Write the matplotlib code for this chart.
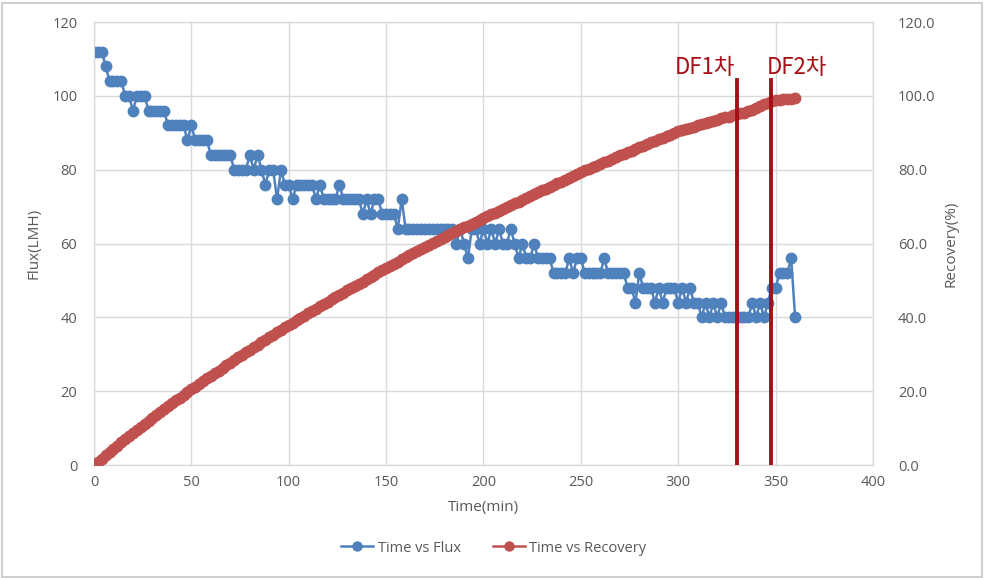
import numpy as np
import matplotlib
matplotlib.use("Agg")
import matplotlib.pyplot as plt
from matplotlib.lines import Line2D
from matplotlib.patches import Rectangle

plt.rcParams['font.family'] = ['Open Sans', 'DejaVu Sans']

# 측정 시간 (2분 간격)
time_min = np.arange(0, 361, 2)

# Flux (LMH), 그림에서 읽은 값
flux = [
    112, 112, 112, 108, 104, 104, 104, 104, 100, 100, 96, 100, 100, 100,
    96, 96, 96, 96, 96,
    92, 92, 92, 92, 92, 88, 92,
    88, 88, 88, 88,
    84, 84, 84, 84, 84, 84,
    80, 80, 80, 80, 84, 80, 84, 80, 76, 80, 80, 72, 80, 76,
    76, 72, 76, 76, 76, 76, 76, 72, 76, 72, 72, 72, 72, 76, 72, 72, 72, 72, 72,
    68, 72, 68, 72, 72, 68, 68, 68, 68,
    64, 72, 64, 64, 64, 64, 64, 64, 64, 64, 64, 64, 64, 64, 64,
    60, 64, 60, 56, 64, 64, 60, 64, 60, 64, 60, 64, 60, 60, 64, 60, 56, 60,
    56, 56, 60, 56, 56, 56, 56,
    52, 52, 52, 52, 56, 52, 56, 56, 52, 52, 52, 52, 52, 56, 52, 52, 52, 52, 52,
    48, 48, 44, 52, 48, 48, 48, 44, 48, 44, 48, 48, 48, 44, 48, 44, 48, 44, 44,
    40, 44, 40, 44, 40, 44, 40, 40, 40, 40, 40, 40, 40, 44, 40, 44, 40, 44,
    48, 48, 52, 52, 52, 56, 40,
]

# Recovery (%), 그림에서 읽은 값
recovery = [
    0.0, 0.9, 1.8, 2.7, 3.6, 4.5, 5.3, 6.2, 7.1, 7.9, 8.8, 9.6, 10.4,
    11.2, 12.0, 12.8, 13.6, 14.4, 15.2, 16.0, 16.8, 17.6, 18.3, 19.1, 19.9, 20.6,
    21.3, 22.0, 22.8, 23.5, 24.2, 24.9, 25.6, 26.3, 27.0, 27.7, 28.5, 29.2, 29.9,
    30.6, 31.3, 31.9, 32.6, 33.3, 34.0, 34.6, 35.3, 36.0, 36.7, 37.3, 38.0,
    38.6, 39.2, 39.9, 40.5, 41.1, 41.7, 42.4, 43.0, 43.6, 44.2, 44.9, 45.5, 46.1,
    46.7, 47.3, 47.9, 48.5, 49.1, 49.7, 50.4, 51.0, 51.6, 52.2, 52.8, 53.4,
    54.0, 54.5, 55.1, 55.7, 56.3, 56.8, 57.4, 58.0, 58.5, 59.1, 59.7, 60.2, 60.8,
    61.3, 61.8, 62.3, 62.8, 63.3, 63.9, 64.4, 64.9, 65.4, 65.9, 66.4, 66.9,
    67.4, 67.9, 68.4, 68.9, 69.4, 69.9, 70.4, 70.9, 71.4, 71.9, 72.4, 72.9, 73.4,
    73.9, 74.4, 74.9, 75.4, 75.9, 76.3, 76.8, 77.3, 77.8, 78.3, 78.8, 79.3,
    79.8, 80.2, 80.7, 81.1, 81.6, 82.0, 82.5, 83.0, 83.4, 83.9, 84.3, 84.8, 85.2,
    85.6, 86.1, 86.5, 86.9, 87.4, 87.8, 88.2, 88.7, 89.1, 89.5, 90.0, 90.4,
    90.7, 91.1, 91.4, 91.7, 92.0, 92.3, 92.7, 93.0, 93.3, 93.6,
    93.9, 94.2, 94.4, 94.7, 95.0,
    95.3, 95.5, 95.8,
    96.3, 96.8, 97.2, 97.7, 98.2,
    98.5, 98.8, 99.0, 99.1, 99.2, 99.2, 99.3,
]

# DF 시점 (min)
df_times = [330, 347.5]
df_labels = ['DF1차', 'DF2차']

blue = '#4F81BD'
red = '#C0504D'
dfred = '#A50F15'
gray_txt = '#595959'
grid_c = '#D9D9D9'

fig = plt.figure(figsize=(9.84, 5.8), dpi=100)
ax = fig.add_axes([0.0955, 0.198, 0.7917, 0.764])
ax2 = ax.twinx()

ax.plot(time_min, flux, color=blue, lw=1.8, marker='o', ms=7.5,
        label='Time vs Flux', zorder=3)
ax2.plot(time_min, recovery, color=red, lw=1.8, marker='o', ms=7.5,
         label='Time vs Recovery', zorder=3)

ax.set_xlim(0, 400)
ax.set_ylim(0, 120)
ax2.set_ylim(0, 120)
ax.set_xticks(np.arange(0, 401, 50))
ax.set_yticks(np.arange(0, 121, 20))
ax2.set_yticks(np.arange(0, 121, 20))
ax2.set_yticklabels([f'{v:.1f}' for v in np.arange(0, 121, 20)])

ax.grid(True, color=grid_c, lw=1.0)
ax.set_axisbelow(True)
for a in (ax, ax2):
    for s in a.spines.values():
        s.set_color(grid_c)
    a.tick_params(length=0, colors=gray_txt, labelsize=10.5)
ax.tick_params(axis='y', pad=12)
ax.tick_params(axis='x', pad=7)
ax2.tick_params(axis='y', pad=18)

ax.set_xlabel('Time(min)', color=gray_txt, fontsize=11, labelpad=7)
ax.set_ylabel('Flux(LMH)', color=gray_txt, fontsize=11, labelpad=8)
ax2.set_ylabel('Recovery(%)', color=gray_txt, fontsize=11, labelpad=6)

# DF 선과 라벨
for t, lab, ha in zip(df_times, df_labels, ['right', 'left']):
    ax2.plot([t, t], [0, 104.3], color=dfred, lw=2.8, zorder=5)
    ax2.text(t + (-0.8 if ha == 'right' else -2.0), 107.6, lab, ha=ha, va='center',
             color=dfred, fontsize=16,
             family=['Noto Sans CJK KR', 'DejaVu Sans'])

handles = [
    Line2D([], [], color=blue, lw=1.8, marker='o', ms=6.5),
    Line2D([], [], color=red, lw=1.8, marker='o', ms=6.5),
]
leg = fig.legend(handles, ['Time vs Flux', 'Time vs Recovery'], loc='center',
                 bbox_to_anchor=(0.502, 0.055), ncol=2, frameon=False,
                 fontsize=10.5, handlelength=2.2, columnspacing=2.2,
                 handletextpad=0.3)
for txt in leg.get_texts():
    txt.set_color(gray_txt)

fig.patches.append(Rectangle((0.002, 0.005), 0.996, 0.99, transform=fig.transFigure,
                             fill=False, edgecolor='#D0D0D0', lw=1.5))

plt.savefig('out.png', dpi=100)
